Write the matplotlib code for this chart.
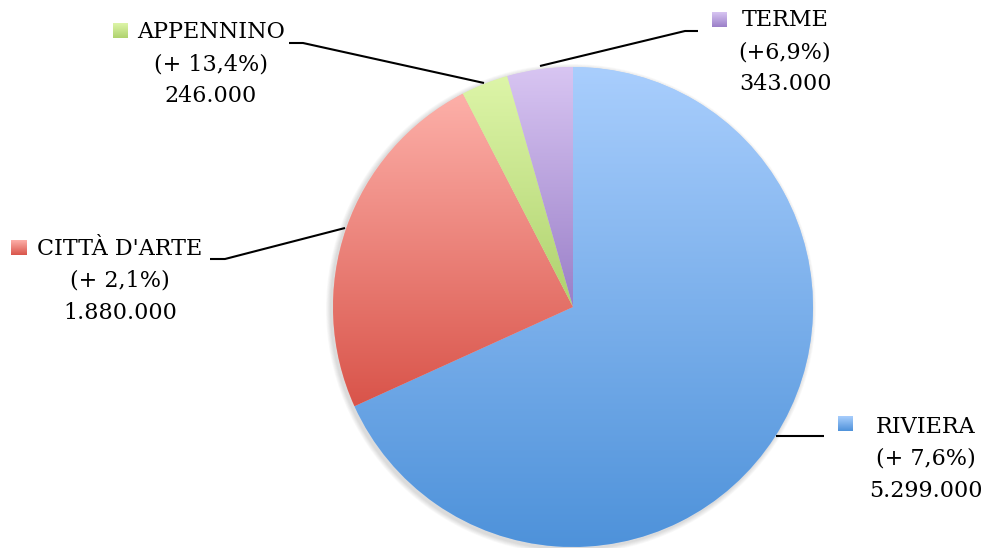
import numpy as np
import matplotlib
matplotlib.use("Agg")
import matplotlib.pyplot as plt
from matplotlib.colors import LinearSegmentedColormap
from matplotlib.patches import Rectangle, Circle

categories = ["RIVIERA", "CITTÀ D'ARTE", "APPENNINO", "TERME"]
values = [5299000, 1880000, 246000, 343000]
changes = ["(+ 7,6%)", "(+ 2,1%)", "(+ 13,4%)", "(+6,9%)"]
top_colors = ["#a9cefd", "#fdb0a9", "#ddf5a8", "#d8c5f2"]
bottom_colors = ["#4e92da", "#d9544a", "#afd26e", "#9a7fc8"]

W, H = 988, 548
fig = plt.figure(figsize=(W / 100, H / 100), dpi=100)
ax = fig.add_axes([0, 0, 1, 1])
ax.set_xlim(0, W)
ax.set_ylim(0, H)
ax.set_aspect("equal")
ax.axis("off")

cx, cy, R = 573, H - 307, 240

# soft shadow
for i in range(6):
    ax.add_patch(Circle((cx - 2, cy - 2), R + 1 + i * 0.8, color="#000000",
                        alpha=0.025, lw=0, zorder=0))

wedges, _ = ax.pie(values, startangle=90, counterclock=False, radius=R,
                   center=(cx, cy), colors=top_colors,
                   wedgeprops=dict(linewidth=0), frame=True)
ax.set_xlim(0, W)
ax.set_ylim(0, H)
ax.axis("off")


def gradient_fill(patch, c_top, c_bot, zorder):
    ext = patch.get_path().transformed(patch.get_patch_transform()).get_extents()
    cmap = LinearSegmentedColormap.from_list("g", [c_bot, c_top])
    grad = np.linspace(0, 1, 256).reshape(-1, 1)
    im = ax.imshow(grad, cmap=cmap, origin="lower", aspect="auto",
                   extent=[ext.x0, ext.x1, ext.y0, ext.y1], zorder=zorder,
                   interpolation="bilinear")
    im.set_clip_path(patch)


for w, ct, cb in zip(wedges, top_colors, bottom_colors):
    w.set_zorder(1)
    gradient_fill(w, ct, cb, 2)

ax.set_xlim(0, W)
ax.set_ylim(0, H)

font = "DejaVu Serif"
fs = 16

# label layout: (square x, square y top, text center x, first line y) in pixel coords
label_pos = {
    "RIVIERA": (838, 416, 926, 427),
    "CITTÀ D'ARTE": (11, 240, 120, 249),
    "APPENNINO": (113, 23, 211, 32),
    "TERME": (712, 12, 785, 20),
}
leaders = {
    "RIVIERA": [(776, 436), (824, 436)],
    "CITTÀ D'ARTE": [(210, 259), (225, 259), (345, 228)],
    "APPENNINO": [(289, 43), (303, 43), (484, 83)],
    "TERME": [(540, 66), (685, 31), (698, 31)],
}

for cat, v, ch, ct, cb in zip(categories, values, changes, top_colors, bottom_colors):
    sx, sy, tx, ty = label_pos[cat]
    sq = Rectangle((sx, H - sy - 15), 15, 15, lw=0, facecolor=ct, zorder=3)
    ax.add_patch(sq)
    gradient_fill(sq, ct, cb, 4)
    lines = [cat, ch, f"{v:,}".replace(",", ".")]
    for k, line in enumerate(lines):
        ax.text(tx, H - (ty + k * 32), line, ha="center", va="center",
                fontsize=fs, family=font, color="#000000", zorder=5)
    pts = leaders[cat]
    ax.plot([p[0] for p in pts], [H - p[1] for p in pts], color="#000000",
            lw=1.5, zorder=6, solid_capstyle="butt")

fig.savefig("out.png", dpi=100)
